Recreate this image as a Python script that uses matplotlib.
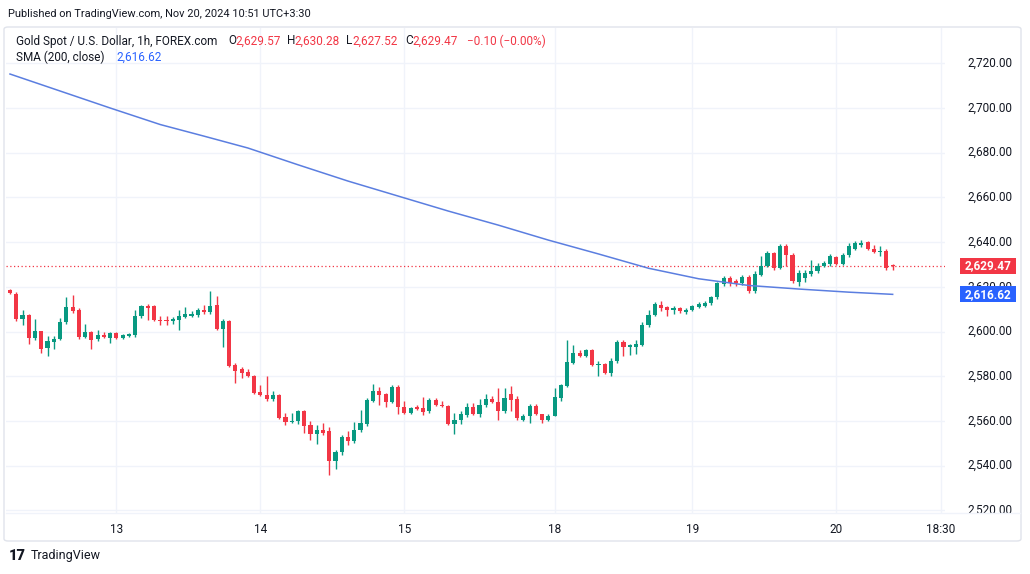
import matplotlib
matplotlib.use('Agg')
import matplotlib.pyplot as plt
from matplotlib.patches import FancyBboxPatch, Rectangle

plt.rcParams['font.family'] = ['Roboto', 'DejaVu Sans']

# ---------------- data (hourly candles) ----------------
opens = [2618.5, 2617.0, 2605.8, 2607.5, 2597.0, 2600.0, 2592.5, 2595.5, 2596.8, 2604.3,
         2610.8, 2609.4, 2597.4, 2599.8, 2596.5, 2598.3, 2597.3, 2599.3, 2597.2, 2597.8,
         2598.3, 2607.1, 2611.3, 2611.3, 2605.3, 2605.3, 2604.6, 2605.3, 2606.6, 2607.1,
         2607.6, 2609.8, 2608.7, 2611.7, 2601.2, 2604.6, 2585.0, 2583.0, 2582.0, 2580.0,
         2572.9, 2571.8, 2569.6, 2571.5, 2561.6, 2559.6, 2559.8, 2564.3, 2558.0, 2554.2,
         2556.1, 2555.3, 2542.2, 2546.1, 2552.7, 2550.9, 2556.1, 2558.6, 2569.1, 2573.2,
         2572.0, 2568.5, 2575.0, 2566.1, 2563.6, 2566.1, 2565.8, 2564.3, 2569.5, 2567.3,
         2566.5, 2558.6, 2560.2, 2562.5, 2566.1, 2562.9, 2567.0, 2570.0, 2568.5, 2564.6,
         2572.0, 2570.0, 2560.6, 2562.0, 2566.5, 2562.9, 2560.6, 2562.4, 2570.3, 2575.5,
         2585.9, 2590.4, 2589.0, 2591.5, 2585.0, 2585.5, 2581.4, 2586.7, 2595.3, 2593.0,
         2593.0, 2593.8, 2602.8, 2607.3, 2612.0, 2610.8, 2609.4, 2610.5, 2608.7, 2609.4,
         2610.8, 2611.6, 2612.6, 2615.5, 2621.4, 2624.0, 2622.5, 2621.7, 2624.4, 2618.0,
         2625.5, 2629.2, 2634.9, 2628.4, 2638.4, 2634.4, 2622.0, 2624.0, 2625.7, 2627.0,
         2629.2, 2630.0, 2633.2, 2630.2, 2634.1, 2637.1, 2638.6, 2640.0, 2637.1, 2635.6,
         2636.2, 2629.57]
highs = [2619.0, 2617.5, 2609.5, 2608.0, 2605.5, 2600.3, 2598.0, 2598.0, 2606.0, 2615.3,
         2616.2, 2610.3, 2603.4, 2600.2, 2600.8, 2600.0, 2600.0, 2599.8, 2599.0, 2599.5,
         2609.8, 2612.0, 2612.3, 2612.0, 2607.0, 2607.0, 2606.5, 2609.8, 2610.8, 2609.0,
         2610.7, 2612.0, 2618.0, 2615.7, 2605.8, 2605.0, 2586.0, 2584.0, 2583.4, 2580.5,
         2576.2, 2580.3, 2573.6, 2572.0, 2563.5, 2563.5, 2564.8, 2564.8, 2559.8, 2558.3,
         2559.0, 2557.1, 2547.2, 2553.6, 2555.7, 2559.5, 2565.0, 2570.3, 2576.5, 2575.0,
         2572.5, 2576.2, 2576.0, 2568.8, 2566.2, 2567.0, 2570.6, 2570.2, 2570.2, 2569.0,
         2567.0, 2563.5, 2564.5, 2568.1, 2568.0, 2570.0, 2572.0, 2571.0, 2574.7, 2574.7,
         2575.5, 2571.0, 2563.0, 2567.5, 2567.5, 2563.3, 2563.0, 2574.7, 2576.5, 2596.4,
         2594.1, 2591.5, 2592.3, 2592.3, 2587.0, 2586.0, 2588.0, 2596.4, 2596.4, 2594.2,
         2596.4, 2604.3, 2609.4, 2613.0, 2613.8, 2611.5, 2611.5, 2611.0, 2610.5, 2612.0,
         2613.0, 2613.7, 2616.0, 2622.0, 2625.0, 2625.0, 2623.5, 2625.5, 2625.5, 2627.2,
         2633.6, 2635.9, 2635.7, 2639.0, 2639.0, 2635.1, 2627.5, 2627.5, 2632.2, 2630.5,
         2631.5, 2634.5, 2634.0, 2635.0, 2639.5, 2640.5, 2641.0, 2640.5, 2638.5, 2638.1,
         2637.0, 2630.28]
lows = [2617.0, 2604.5, 2603.0, 2594.6, 2596.0, 2590.4, 2589.0, 2592.0, 2596.4, 2603.5,
        2608.3, 2596.8, 2597.0, 2592.0, 2595.6, 2597.0, 2595.0, 2596.5, 2596.8, 2597.5,
        2597.7, 2606.0, 2605.3, 2604.6, 2603.0, 2603.0, 2603.5, 2600.8, 2606.0, 2606.5,
        2606.5, 2608.0, 2608.0, 2600.5, 2593.0, 2584.0, 2577.0, 2579.0, 2579.5, 2572.0,
        2571.3, 2568.8, 2569.0, 2560.8, 2558.3, 2559.0, 2558.8, 2554.6, 2551.6, 2549.7,
        2553.8, 2536.0, 2538.7, 2544.6, 2549.4, 2550.3, 2555.0, 2557.8, 2568.5, 2567.3,
        2566.0, 2568.0, 2563.0, 2563.0, 2563.0, 2565.0, 2562.5, 2563.6, 2566.5, 2566.0,
        2558.0, 2554.2, 2558.5, 2561.8, 2562.5, 2561.8, 2566.0, 2568.0, 2560.6, 2563.6,
        2564.6, 2560.5, 2559.8, 2559.0, 2562.5, 2559.0, 2560.0, 2562.0, 2568.8, 2575.0,
        2585.3, 2588.5, 2588.5, 2584.5, 2580.0, 2580.8, 2580.0, 2586.0, 2589.0, 2589.7,
        2590.0, 2593.3, 2602.0, 2606.8, 2609.3, 2606.8, 2608.0, 2608.3, 2608.0, 2609.0,
        2610.3, 2611.0, 2612.0, 2614.5, 2620.5, 2620.5, 2620.5, 2621.0, 2617.2, 2617.2,
        2625.0, 2628.8, 2627.7, 2628.0, 2629.2, 2621.7, 2620.5, 2622.0, 2625.0, 2626.0,
        2628.8, 2629.5, 2629.8, 2629.8, 2633.5, 2636.5, 2638.0, 2636.5, 2635.0, 2633.6,
        2627.7, 2627.52]
closes = [2617.2, 2605.5, 2607.2, 2597.0, 2600.0, 2592.3, 2595.6, 2596.8, 2604.3, 2610.8,
          2609.0, 2597.5, 2599.8, 2596.4, 2598.3, 2597.6, 2599.3, 2597.1, 2598.6, 2599.0,
          2607.1, 2611.3, 2610.5, 2605.3, 2604.6, 2604.6, 2605.8, 2607.1, 2607.8, 2608.0,
          2609.8, 2608.8, 2611.6, 2601.2, 2604.6, 2584.4, 2582.5, 2581.5, 2580.0, 2572.5,
          2571.8, 2570.0, 2571.5, 2561.3, 2559.5, 2560.0, 2564.3, 2557.6, 2554.0, 2556.1,
          2554.6, 2542.2, 2546.1, 2552.7, 2550.9, 2556.1, 2559.0, 2569.5, 2573.2, 2571.8,
          2568.5, 2575.0, 2566.1, 2563.6, 2565.8, 2565.5, 2564.0, 2569.5, 2567.0, 2566.5,
          2558.6, 2560.6, 2563.1, 2566.1, 2562.9, 2567.3, 2570.0, 2568.5, 2564.6, 2570.2,
          2569.5, 2561.3, 2562.1, 2566.5, 2562.9, 2560.6, 2562.4, 2570.6, 2576.0, 2586.2,
          2590.4, 2589.0, 2591.5, 2584.9, 2585.5, 2581.4, 2587.0, 2595.3, 2593.0, 2593.8,
          2594.4, 2603.1, 2607.3, 2612.3, 2610.5, 2609.4, 2610.5, 2609.0, 2609.8, 2611.3,
          2612.3, 2612.6, 2615.5, 2621.5, 2624.0, 2621.7, 2621.7, 2624.4, 2618.0, 2625.9,
          2629.5, 2634.9, 2628.4, 2638.4, 2634.4, 2622.5, 2626.0, 2626.2, 2627.2, 2629.2,
          2630.7, 2633.6, 2630.2, 2634.4, 2638.1, 2639.6, 2639.6, 2637.1, 2635.6, 2636.2,
          2628.4, 2629.47]

# SMA(200, close) at selected bars
sma_idx = [0, 8, 16, 24, 31, 38, 46, 54, 62, 70, 78, 86, 94, 102, 110, 118, 126, 134, 141]
sma_vals = [2715.2, 2707.6, 2700.0, 2692.6, 2687.4, 2682.1, 2674.6, 2667.3, 2660.6,
            2653.9, 2647.6, 2640.9, 2634.7, 2628.3, 2623.6, 2620.6, 2619.0, 2617.6, 2616.62]

day_ticks = [17, 40, 63, 87, 109, 132, 148.7]
day_labels = ['13', '14', '15', '18', '19', '20', '18:30']
price_ticks = [2520, 2540, 2560, 2580, 2600, 2620, 2640, 2660, 2680, 2700, 2720]

last_open, last_high, last_low, last_close = 2629.57, 2630.28, 2627.52, 2629.47
change_txt = '\u22120.10 (\u22120.00%)'
sma_last = 2616.62

# ---------------- styling ----------------
UP = '#089981'
DOWN = '#F23645'
TXT = '#131722'
GRID = '#f0f3fa'
SMA_C = '#5b7ee0'
BLUE = '#2962FF'
FS = 8.5

W, H = 1030, 574
fig = plt.figure(figsize=(W / 100, H / 100), dpi=100)
fig.patch.set_facecolor('white')


def fx(x):
    return x / W


def fy(y):
    return 1 - y / H


# main price axes (pixel geometry)
top_px, bot_px, left_px, right_px = 28, 513, 6, 945
ypx_per = 2.235
y_top = 2720 + (63.3 - top_px) / ypx_per
y_bot = 2720 - (bot_px - 63.3) / ypx_per
xpx_per = 6.26
x_left = -(10 - left_px) / xpx_per
x_right = x_left + (right_px - left_px) / xpx_per

ax = fig.add_axes([fx(left_px), fy(bot_px), (right_px - left_px) / W, (bot_px - top_px) / H])
ax.set_xlim(x_left, x_right)
ax.set_ylim(y_bot, y_top)
for s in ax.spines.values():
    s.set_visible(False)
ax.set_yticks(price_ticks)
ax.set_yticklabels([])
ax.tick_params(axis='y', length=0)
ax.set_xticks(day_ticks)
ax.set_xticklabels(day_labels, fontsize=FS, color=TXT)
ax.tick_params(axis='x', length=0, pad=7)
ax.grid(True, color=GRID, linewidth=1)
ax.set_axisbelow(True)

# candles
xs = list(range(len(opens)))
cols = [UP if c >= o else DOWN for o, c in zip(opens, closes)]
ax.vlines(xs, lows, highs, colors=cols, linewidth=1, zorder=2)
bottoms = [min(o, c) for o, c in zip(opens, closes)]
heights = [max(abs(c - o), 0.35) for o, c in zip(opens, closes)]
ax.bar(xs, heights, bottom=bottoms, width=0.66, color=cols, linewidth=0, zorder=3)

# SMA line
ax.plot(sma_idx, sma_vals, color=SMA_C, linewidth=1.1, zorder=4)

# last price dotted line
ax.axhline(last_close, color=DOWN, linestyle=(0, (1, 2)), linewidth=0.9, zorder=1)

# price scale axes
axp = fig.add_axes([fx(right_px), fy(bot_px), (1019 - right_px) / W, (bot_px - top_px) / H])
axp.set_xlim(0, 1019 - right_px)
axp.set_ylim(y_bot, y_top)
axp.axis('off')
for p in price_ticks:
    axp.text(67, p, f'{p:,.2f}', ha='right', va='center', fontsize=FS, color=TXT,
             clip_on=True, zorder=2)
bh = 8 / ypx_per
axp.add_patch(Rectangle((15, last_close - bh), 56, 2 * bh, facecolor=DOWN, edgecolor='none', zorder=5))
axp.text(43, last_close, f'{last_close:,.2f}', ha='center', va='center', fontsize=FS,
         color='white', fontweight='bold', zorder=6)
axp.add_patch(Rectangle((15, sma_last - bh), 56, 2 * bh, facecolor=BLUE, edgecolor='none', zorder=5))
axp.text(43, sma_last, f'{sma_last:,.2f}', ha='center', va='center', fontsize=FS,
         color='white', fontweight='bold', zorder=6)

# frame around chart
frame = FancyBboxPatch((fx(4), fy(541)), (1021 - 4) / W, (541 - 27) / H,
                       boxstyle='round,pad=0,rounding_size=0.004',
                       transform=fig.transFigure, fill=False, edgecolor='#e0e3eb', linewidth=1)
fig.patches.append(frame)
fig.add_artist(plt.Line2D([fx(left_px), fx(1020)], [fy(bot_px), fy(bot_px)],
                          color='#f0f3fa', linewidth=1))

# header texts
fig.text(fx(8), fy(14), 'Published on TradingView.com, Nov 20, 2024 10:51 UTC+3:30',
         fontsize=7.9, color=TXT, va='center', ha='left')
fig.text(fx(16), fy(41), 'Gold Spot / U.S. Dollar, 1h, FOREX.com', fontsize=FS,
         color=TXT, va='center', ha='left')
parts = [(228, 'O', TXT), (235, f'{last_open:,.2f}', DOWN),
         (287, 'H', TXT), (294, f'{last_high:,.2f}', DOWN),
         (346, 'L', TXT), (352, f'{last_low:,.2f}', DOWN),
         (405, 'C', TXT), (412, f'{last_close:,.2f}', DOWN),
         (467, change_txt, DOWN)]
for x, t, c in parts:
    fig.text(fx(x), fy(41), t, fontsize=FS, color=c, va='center', ha='left')
fig.text(fx(16), fy(57), 'SMA (200, close)', fontsize=FS, color=TXT, va='center', ha='left')
fig.text(fx(116), fy(57), f'{sma_last:,.2f}', fontsize=FS, color=BLUE, va='center', ha='left')

# footer logo
fig.text(fx(9), fy(556), '17', fontsize=10.5, color=TXT, fontweight='black', va='center', ha='left')
fig.text(fx(31), fy(556), 'TradingView', fontsize=9, color=TXT, va='center', ha='left')

fig.savefig('out.png', dpi=100, facecolor='white')
